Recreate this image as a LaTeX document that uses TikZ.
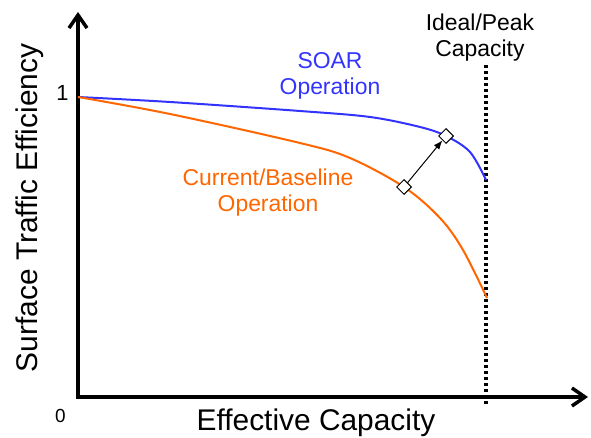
\documentclass[tikz,border=0pt]{standalone}
\usepackage{fontspec}
\setmainfont{Liberation Sans}
\usetikzlibrary{arrows.meta,shapes.geometric}
\definecolor{soarblue}{RGB}{51,51,255}
\definecolor{baseorange}{RGB}{255,102,0}
\begin{document}
\begin{tikzpicture}[x=1bp,y=-1bp,
  axis/.style={line width=3.5bp,{Straight Barb[length=13bp,width=18bp]}-{Straight Barb[length=13bp,width=18bp]}},
  curve/.style={line width=2bp},
  marker/.style={diamond,draw=black,fill=white,line width=1bp,minimum size=15bp,inner sep=0pt},
  lbl/.style={font=\fontsize{23}{27}\selectfont,align=center,inner sep=0pt},
  bigl/.style={font=\fontsize{30}{34}\selectfont,inner sep=0pt}]
\useasboundingbox (0,0) rectangle (591,438);
% axes
\draw[axis] (78,12) -- (78,397) -- (588,397);
% ideal capacity line
\draw[line width=3.2bp,dash pattern=on 3bp off 3bp] (486,65) -- (486,404);
% curves
\draw[curve,soarblue] plot[smooth,tension=0.55] coordinates
  {(78,97) (170,102) (300,111) (370,117) (420,127) (446,136) (470,152) (486,180)};
\draw[curve,baseorange] plot[smooth,tension=0.55] coordinates
  {(78,97) (170,114) (300,143) (350,158) (404,187) (440,218) (463,250) (487,298)};
% markers
\node[marker] (ob) at (404,187) {};
\node[marker] (sb) at (446,136) {};
\draw[line width=1bp,-{Latex[length=9bp,width=7bp]}] (ob) -- (sb);
% labels
\node[bigl,rotate=90,anchor=base] (ylab) at (37,208) {Surface Traffic Efficiency};
\node[bigl,anchor=base] (xlab) at (316,430) {Effective Capacity};
\node[font=\fontsize{22}{26}\selectfont,inner sep=0pt] (one) at (62.5,93) {1};
\node[font=\fontsize{19}{23}\selectfont,inner sep=0pt] (zero) at (60.5,416) {0};
\node[lbl,text=soarblue,anchor=base] (soar) at (330,95) {SOAR\\Operation};
\node[lbl,text=baseorange,anchor=base] (cur) at (268,212) {Current/Baseline\\Operation};
\node[lbl,anchor=base] (ideal) at (480,57) {Ideal/Peak\\Capacity};
\end{tikzpicture}
\end{document}
